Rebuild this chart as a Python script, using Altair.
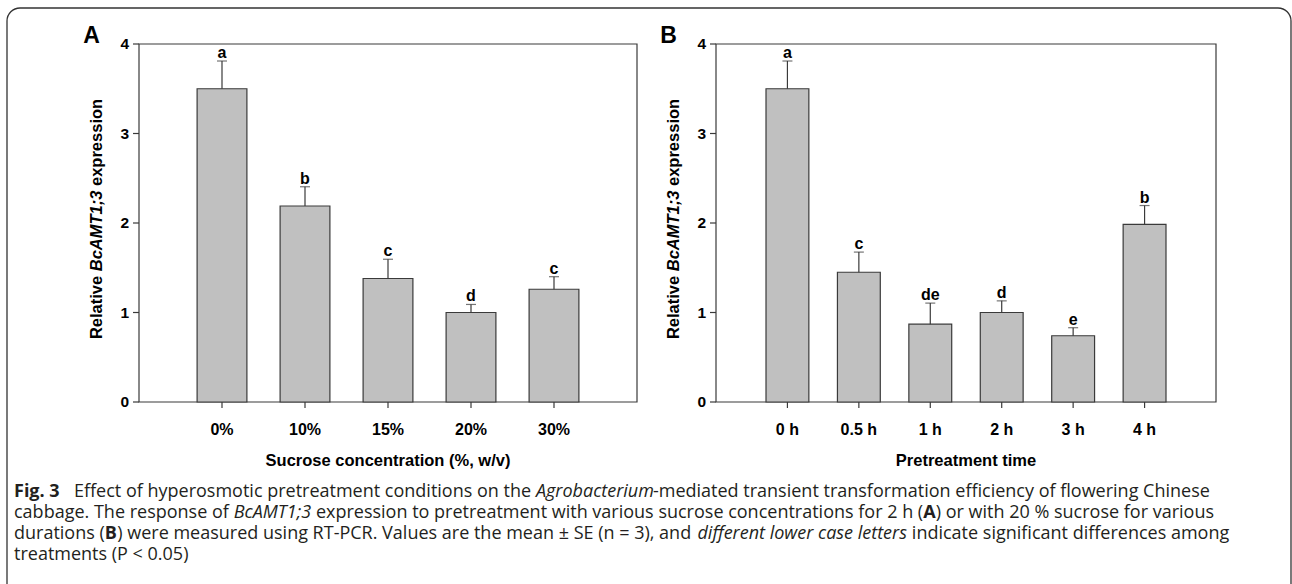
import altair as alt
import pandas as pd

# ---------------- data ----------------
cats_a = ["0%", "10%", "15%", "20%", "30%"]
mean_a = [3.50, 2.19, 1.38, 1.00, 1.26]
se_a = [0.31, 0.215, 0.215, 0.09, 0.14]
letters_a = ["a", "b", "c", "d", "c"]

cats_b = ["0 h", "0.5 h", "1 h", "2 h", "3 h", "4 h"]
mean_b = [3.50, 1.45, 0.87, 1.00, 0.74, 1.985]
se_b = [0.31, 0.225, 0.235, 0.13, 0.09, 0.21]
letters_b = ["a", "c", "de", "d", "e", "b"]

y_ticks = [0, 1, 2, 3, 4]

# ---------------- layout / style ----------------
PLOT_FONT = "Liberation Sans"
CAP_FONT = "Open Sans"
LINE = "#3a3a3a"
Y0, Y4 = 402, 44
ONE = [{"k": 0}]


def seg(text, x, y, size, font, weight="normal", style="normal",
        align="left", baseline="alphabetic", angle=0, color="#000000"):
    mk = dict(text=text, font=font, fontSize=size, fontWeight=weight,
              fontStyle=style, align=align, baseline=baseline, color=color)
    if angle:
        mk["angle"] = angle
    return alt.Chart(alt.Data(values=ONE)).mark_text(**mk).encode(
        x=alt.value(x), y=alt.value(y))


# Arial/Liberation bold widths (per em) for the y title
AB = {"R": .722, "e": .556, "l": .278, "a": .556, "t": .333, "i": .278, "v": .556,
      " ": .278, "B": .722, "c": .556, "A": .722, "M": .833, "T": .611, "1": .556,
      ";": .333, "3": .556, "x": .556, "p": .611, "r": .389, "s": .556, "o": .611,
      "n": .611}


def aw(s):
    return sum(AB.get(ch, .6) for ch in s)


def ytitle(xc, yc, size=16.5):
    parts = [("Relative", "normal"), ("BcAMT1;3", "italic"), ("expression", "normal")]
    total = sum(aw(p) for p, _ in parts) + 2 * AB[" "]
    pos = yc + total * size / 2
    out = []
    for p, st in parts:
        out.append(seg(p, xc, pos, size, PLOT_FONT, weight="bold", style=st,
                       align="left", baseline="middle", angle=270))
        pos -= (aw(p) + AB[" "]) * size
    return out


def panel(cats, means, ses, letters, x0, x1, xtitle, plabel, lx):
    df = pd.DataFrame({"cat": cats, "mean": means, "se": ses, "letter": letters})
    ysc = alt.Scale(domain=[0, 4], range=[Y0, Y4], nice=False)
    xsc = alt.Scale(domain=cats, range=[x0, x1], paddingInner=0.4, paddingOuter=0.7)
    X = alt.X("cat:N", scale=xsc, axis=None)
    base = alt.Chart(df).transform_calculate(top="datum.mean + datum.se")

    frame = alt.Chart(alt.Data(values=ONE)).mark_rect(
        fill="transparent", stroke=LINE, strokeWidth=1.2).encode(
        x=alt.value(x0), x2=alt.value(x1), y=alt.value(Y4), y2=alt.value(Y0))
    bars = base.mark_bar(fill="#c0c0c0", stroke=LINE, strokeWidth=1.2).encode(
        x=X, y=alt.Y("mean:Q", scale=ysc, axis=None))
    err = base.mark_rule(color=LINE, strokeWidth=1.2).encode(
        x=X, y=alt.Y("mean:Q", scale=ysc, axis=None), y2="top:Q")
    cap = base.mark_tick(color=LINE, size=10, thickness=1.2).encode(
        x=X, y=alt.Y("top:Q", scale=ysc, axis=None))
    lett = base.mark_text(font=PLOT_FONT, fontWeight="bold", fontSize=16,
                          baseline="alphabetic", dy=-3, color="#000000").encode(
        x=X, y=alt.Y("top:Q", scale=ysc, axis=None), text="letter:N")
    xt = alt.Chart(df).mark_rule(color=LINE, strokeWidth=1.2).encode(
        x=X, y=alt.value(Y0), y2=alt.value(Y0 + 6))
    xl = alt.Chart(df).mark_text(font=PLOT_FONT, fontWeight="bold", fontSize=16,
                                 baseline="alphabetic", color="#000000").encode(
        x=X, y=alt.value(435), text="cat:N")
    tdf = pd.DataFrame({"v": y_ticks})
    yt = alt.Chart(tdf).mark_rule(color=LINE, strokeWidth=1.2).encode(
        y=alt.Y("v:Q", scale=ysc, axis=None), x=alt.value(x0 - 6), x2=alt.value(x0))
    yl = alt.Chart(tdf).mark_text(font=PLOT_FONT, fontWeight="bold", fontSize=15.5,
                                  align="right", baseline="middle", color="#000000").encode(
        y=alt.Y("v:Q", scale=ysc, axis=None), x=alt.value(x0 - 10), text="v:Q")
    xtit = seg(xtitle, (x0 + x1) / 2, 466, 16.5, PLOT_FONT, weight="bold", align="center")
    plab = seg(plabel, lx, 43, 23, PLOT_FONT, weight="bold", align="center")
    return alt.layer(frame, bars, err, cap, lett, xt, xl, yt, yl, xtit, plab,
                     *ytitle(x0 - 42, 219))


pa = panel(cats_a, mean_a, se_a, letters_a, 139, 637,
           "Sucrose concentration (%, w/v)", "A", 91.5)
pb = panel(cats_b, mean_b, se_b, letters_b, 716, 1216,
           "Pretreatment time", "B", 668.5)

# ---------------- caption ----------------
OR = {" ": .26, "(": .296, ")": .296, ",": .245, "-": .322, ".": .266, "/": .367,
      ";": .266, "<": .572, "=": .572, "±": .572, "%": .831,
      "A": .633, "B": .648, "C": .631, "E": .556, "F": .516, "M": .890, "P": .613,
      "R": .655, "S": .549, "T": .546, "V": .586,
      "a": .556, "b": .613, "c": .476, "d": .613, "e": .561, "f": .339, "g": .548,
      "h": .614, "i": .253, "k": .525, "l": .253, "m": .930, "n": .614, "o": .604,
      "p": .613, "r": .408, "s": .477, "t": .353, "u": .614, "v": .501, "w": .778,
      "x": .524, "y": .502}
for d in "0123456789":
    OR[d] = .572
OB = {"F": .571, "i": .299, "g": .579, ".": .300, " ": .26, "3": .572, "A": .690, "B": .688}


def ow(s, weight, style):
    if weight == "bold":
        return sum(OB.get(ch, .62) for ch in s)
    f = 0.935 if style == "italic" else 1.0
    return sum(OR.get(ch, .55) for ch in s) * f


CS = 18


def cap_line(parts, y, x=14):
    out = []
    for text, wt, st, lead in parts:
        if isinstance(lead, str):
            x = float(lead)
        else:
            x += lead * CS
        out.append(seg(text, x, y, CS, CAP_FONT, weight=wt, style=st, color="#231f20"))
        x += ow(text, wt, st) * CS
    return out


N, I, BD, SP = "normal", "italic", "bold", 0.26
caption = []
caption += cap_line([
    ("Fig. 3", BD, N, 0),
    ("Effect of hyperosmotic pretreatment conditions on the", N, N, "74"),
    ("Agrobacterium", N, I, SP),
    ("-mediated transient transformation efficiency of flowering Chinese", N, N, 0),
], 497)
caption += cap_line([
    ("cabbage. The response of", N, N, 0),
    ("BcAMT1;3", N, I, SP),
    ("expression to pretreatment with various sucrose concentrations for 2 h (", N, N, SP),
    ("A", BD, N, 0),
    (") or with 20 % sucrose for various", N, N, 0),
], 518)
caption += cap_line([
    ("durations (", N, N, 0),
    ("B", BD, N, 0),
    (") were measured using RT-PCR. Values are the mean ± SE (n = 3), and", N, N, 0),
    ("different lower case letters", N, I, SP),
    ("indicate significant differences among", N, N, SP),
], 539)
caption += cap_line([("treatments (P < 0.05)", N, N, 0)], 560)

border = alt.Chart(alt.Data(values=ONE)).mark_rect(
    fill="transparent", stroke="#333333", strokeWidth=1.3, cornerRadius=13).encode(
    x=alt.value(7), x2=alt.value(1291), y=alt.value(8), y2=alt.value(650))

chart = alt.layer(border, pa, pb, *caption).resolve_scale(
    x="independent"
).properties(
    width=1292, height=584,
    autosize=alt.AutoSizeParams(type="none"),
    padding=0,
    background="white",
).configure_view(stroke=None)

chart.save("out.html", embed_options={"renderer": "svg", "actions": False})
